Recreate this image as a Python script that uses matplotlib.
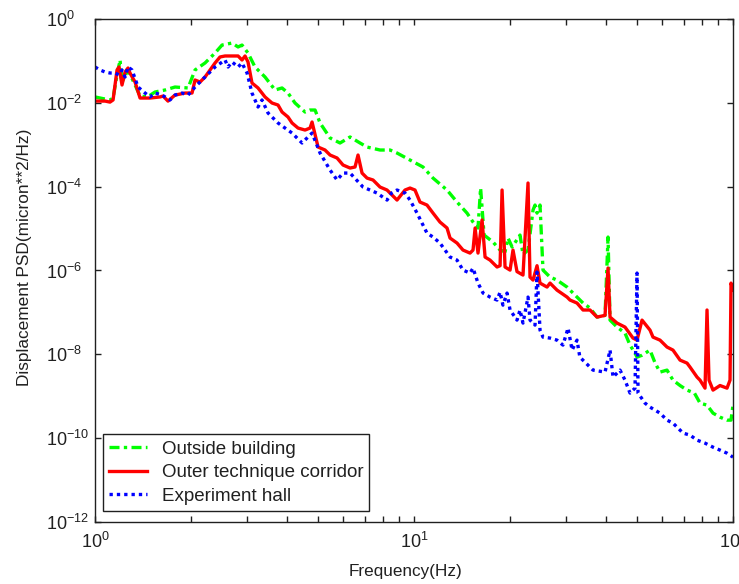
import matplotlib
matplotlib.use("Agg")
import matplotlib.pyplot as plt
from matplotlib.ticker import LogLocator, NullLocator

plt.rcParams["font.family"] = ["Liberation Sans", "DejaVu Sans"]
plt.rcParams["mathtext.default"] = "regular"
plt.rcParams["axes.unicode_minus"] = False

# Outside building (green, dash-dot)
f_out = [1.00, 1.075, 1.114, 1.139, 1.172, 1.198, 1.215, 1.269, 1.335, 1.384,
         1.46, 1.542, 1.657, 1.781, 1.957, 2.058, 2.212, 2.378, 2.501, 2.689,
         2.808, 2.889, 3.017, 3.173, 3.411, 3.667, 3.857, 4.027, 4.236, 4.554,
         4.721, 4.895, 5.075, 5.455, 5.862, 6.302, 6.771, 7.124, 7.824, 8.410,
         8.845, 9.716, 10.67, 11.47, 12.69, 13.64, 14.66, 15.31, 15.87, 16.17,
         16.58, 17.69, 18.61, 19.29, 19.71, 20.3, 21.49, 21.96, 22.77, 23.61,
         23.95, 24.30, 24.83, 25.37, 26.69, 28.07, 30.18, 32.43, 33.87, 35.62,
         37.47, 39.70, 40.57, 41.16, 43.30, 45.86, 47.54, 49.29, 50.01, 51.85,
         54.93, 57.0, 59.04, 62.10, 64.84, 68.23, 71.76, 75.7, 78.81, 82.89,
         86.56, 91.05, 95.76, 98.57, 100.0]
psd_out = [0.0138, 0.0123, 0.0117, 0.0130, 0.0461, 0.105, 0.0313, 0.0607, 0.0266, 0.0145,
           0.0138, 0.0181, 0.0202, 0.0238, 0.0226, 0.0607, 0.0891, 0.154, 0.239, 0.267,
           0.215, 0.239, 0.154, 0.0715, 0.0413, 0.0202, 0.0226, 0.0171, 0.00989, 0.00603,
           0.00673, 0.00673, 0.00330, 0.00145, 0.00110, 0.00153, 0.00110, 8.81e-4, 7.48e-4, 7.48e-4,
           6.34e-4, 4.31e-4, 2.94e-4, 1.60e-4, 8.30e-5, 4.29e-5, 2.34e-5, 1.43e-5, 1.03e-5, 9.26e-5,
           7.00e-6, 4.76e-6, 3.07e-6, 2.8e-6, 5.93e-6, 3.62e-6, 7.00e-6, 2.4e-6, 3.07e-6, 2.77e-5,
           3.64e-5, 2.34e-5, 3.64e-5, 1.02e-6, 6.96e-7, 5.90e-7, 4.02e-7, 2.32e-7, 1.67e-7, 1.27e-7,
           7.73e-8, 8.5e-8, 6.27e-6, 6.55e-8, 4.46e-8, 3.21e-8, 1.66e-8, 1.07e-8, 8.57e-9, 9.5e-9,
           1.26e-8, 6.17e-9, 3.76e-9, 4.20e-9, 2.42e-9, 1.8e-9, 1.40e-9, 1.19e-9, 6.85e-10, 6.13e-10,
           3.95e-10, 3.17e-10, 2.69e-10, 2.69e-10, 6.13e-10]

# Outer technique corridor (red, solid)
f_cor = [1.00, 1.075, 1.114, 1.139, 1.172, 1.189, 1.215, 1.242, 1.269, 1.287,
         1.335, 1.384, 1.487, 1.599, 1.634, 1.693, 1.781, 1.915, 2.014, 2.058,
         2.134, 2.212, 2.294, 2.378, 2.465, 2.556, 2.689, 2.808, 2.889, 2.953,
         3.017, 3.105, 3.243, 3.411, 3.588, 3.747, 3.857, 4.027, 4.146, 4.329,
         4.554, 4.721, 4.790, 5.002, 5.260, 5.455, 5.738, 5.990, 6.302, 6.532,
         6.675, 6.871, 7.124, 7.439, 7.824, 8.230, 8.845, 9.371, 9.716, 10.07,
         10.44, 10.98, 11.47, 12.06, 12.69, 12.97, 13.64, 14.24, 14.98, 15.31,
         15.54, 15.87, 16.34, 16.70, 17.31, 18.21, 18.61, 18.88, 19.29, 20.00,
         20.43, 21.03, 21.96, 22.77, 23.10, 23.61, 24.30, 24.83, 26.12, 26.69,
         28.07, 30.18, 30.83, 32.43, 33.87, 35.62, 37.47, 39.70, 40.57, 41.16,
         43.30, 45.86, 48.58, 50.01, 51.85, 54.93, 56.13, 59.04, 62.10, 64.84,
         68.23, 71.76, 73.33, 77.13, 78.81, 81.71, 82.89, 84.10, 86.56, 91.05,
         95.76, 97.87, 98.57, 100.0]
psd_cor = [0.0110, 0.0110, 0.0104, 0.0117, 0.0607, 0.0715, 0.0266, 0.0543, 0.0677, 0.0514,
           0.0313, 0.0130, 0.0130, 0.0138, 0.0145, 0.0110, 0.0153, 0.0171, 0.0171, 0.0350,
           0.0313, 0.0413, 0.0607, 0.0891, 0.124, 0.131, 0.131, 0.131, 0.105, 0.131,
           0.0942, 0.0297, 0.0226, 0.0138, 0.00989, 0.00886, 0.00603, 0.00458, 0.00330, 0.00250,
           0.00224, 0.00250, 0.00348, 8.81e-4, 7.48e-4, 5.68e-4, 4.82e-4, 3.28e-4, 2.78e-4, 2.94e-4,
           5.68e-4, 2.11e-4, 1.60e-4, 1.44e-4, 9.78e-5, 8.30e-5, 4.79e-5, 8.30e-5, 9.26e-5, 8.30e-5,
           4.29e-5, 3.64e-5, 2.34e-5, 1.43e-5, 1.03e-5, 5.93e-6, 4.51e-6, 3.07e-6, 2.60e-6, 3.07e-6,
           1.03e-5, 2.60e-6, 1.60e-5, 2.09e-6, 1.77e-6, 1.21e-6, 1.3e-6, 8.30e-5, 1.21e-6, 1.02e-6,
           3.07e-6, 9.4e-7, 7.77e-7, 1.22e-4, 6.96e-7, 5.90e-7, 1.3e-6, 5.00e-7, 4.02e-7, 5.00e-7,
           3.40e-7, 2.32e-7, 1.97e-7, 1.67e-7, 1.14e-7, 1.14e-7, 7.73e-8, 8.5e-8, 1.14e-6, 7.73e-8,
           5.56e-8, 4.46e-8, 2.44e-8, 2.18e-8, 6.55e-8, 3.78e-8, 2.57e-8, 2.18e-8, 1.49e-8, 1.26e-8,
           7.27e-9, 6.17e-9, 4.95e-9, 2.86e-9, 2.42e-9, 1.56e-9, 1.14e-7, 2.42e-9, 1.40e-9, 1.8e-9,
           1.56e-9, 2.42e-9, 5.00e-7, 3.40e-7]

# Experiment hall (blue, dotted)
f_hall = [1.00, 1.037, 1.075, 1.114, 1.155, 1.189, 1.215, 1.242, 1.269, 1.306,
          1.364, 1.435, 1.487, 1.542, 1.621, 1.718, 1.781, 1.874, 1.957, 2.058,
          2.212, 2.378, 2.556, 2.612, 2.689, 2.808, 2.889, 2.996, 3.105, 3.243,
          3.338, 3.486, 3.747, 3.941, 4.146, 4.456, 4.653, 4.790, 5.075, 5.455,
          5.738, 5.990, 6.302, 6.921, 7.280, 7.656, 8.230, 8.5, 8.845, 9.371,
          9.716, 10.22, 10.98, 11.47, 12.06, 12.97, 13.64, 14.24, 14.98, 15.31,
          15.87, 16.46, 17.31, 18.21, 18.61, 19.0, 19.57, 20.00, 21.03, 21.49,
          21.96, 22.77, 23.10, 23.95, 24.30, 24.83, 25.37, 26.69, 28.07, 29.3,
          30.40, 31.3, 32.43, 33.1, 36.40, 39.70, 41.16, 42.06, 44.24, 45.86,
          47.54, 49.29, 50.01, 50.38, 52.98, 54.93, 59.04, 62.10, 64.84, 69.72,
          73.33, 77.13, 81.71, 86.56, 91.05, 95.76, 100.0]
psd_hall = [0.0715, 0.0607, 0.0543, 0.0514, 0.0514, 0.0461, 0.0607, 0.0413, 0.0715, 0.0607,
            0.0238, 0.0171, 0.0138, 0.0171, 0.0153, 0.0117, 0.0153, 0.0171, 0.0153, 0.0238,
            0.0413, 0.0715, 0.105, 0.0715, 0.0942, 0.0715, 0.0891, 0.0514, 0.0171, 0.00794,
            0.0117, 0.00571, 0.00330, 0.00250, 0.00190, 0.00110, 0.00153, 0.00190, 6.34e-4, 2.49e-4,
            1.44e-4, 2.11e-4, 2.11e-4, 9.78e-5, 8.30e-5, 7.03e-5, 4.79e-5, 7.03e-5, 8.30e-5, 7.03e-5,
            4.79e-5, 2.34e-5, 7.81e-6, 6.27e-6, 4.51e-6, 2.09e-6, 1.77e-6, 1.02e-6, 8.67e-7, 1.14e-6,
            5.00e-7, 2.89e-7, 2.32e-7, 1.97e-7, 3.05e-7, 1.49e-7, 2.89e-7, 1.14e-7, 6.55e-8, 1.14e-7,
            5.56e-8, 2.32e-7, 6.55e-8, 4.98e-8, 9.16e-7, 3.78e-8, 2.57e-8, 2.44e-8, 2.18e-8, 1.66e-8,
            4.22e-8, 1.26e-8, 2.18e-8, 8.57e-9, 4.20e-9, 3.76e-9, 1.26e-8, 2.86e-9, 4.20e-9, 2.42e-9,
            1.19e-9, 1.56e-9, 8.67e-7, 1.19e-9, 6.85e-10, 5.50e-10, 3.95e-10, 2.69e-10, 2.28e-10, 1.32e-10,
            1.18e-10, 8.96e-11, 7.6e-11, 6.09e-11, 5.18e-11, 4.38e-11, 3.52e-11]

fig = plt.figure(figsize=(7.39, 5.84), dpi=100)
ax = fig.add_axes([0.1286, 0.1062, 0.8633, 0.8613])

ax.loglog(f_out, psd_out, color="#00ff00", linestyle=(0, (3, 1.3, 1, 1.3)), linewidth=2.4,
          label="Outside building")
ax.loglog(f_cor, psd_cor, color="#ff0000", linestyle="-", linewidth=2.4,
          label="Outer technique corridor")
ax.loglog(f_hall, psd_hall, color="#0000ff", linestyle=(0, (1, 1.2)), linewidth=2.4,
          label="Experiment hall")

ax.set_xlim(1, 100)
ax.set_ylim(1e-12, 1)
ax.set_yticks([1e-12, 1e-10, 1e-8, 1e-6, 1e-4, 1e-2, 1])
ax.yaxis.set_minor_locator(NullLocator())
ax.xaxis.set_minor_locator(LogLocator(base=10, subs=range(2, 10)))

txt = "#202020"
ax.tick_params(which="both", direction="in", top=True, right=True, length=4,
               width=1, color=txt, labelsize=13, labelcolor=txt)
ax.tick_params(axis="x", pad=7)
ax.tick_params(axis="y", pad=35.5)
for lab in ax.get_yticklabels():
    lab.set_horizontalalignment("left")
for sp in ax.spines.values():
    sp.set_color(txt)
    sp.set_linewidth(1)

ax.set_xlabel("Frequency(Hz)", fontsize=12.3, color=txt)
ax.set_ylabel("Displacement PSD(micron**2/Hz)", fontsize=12.4, color=txt)
ax.xaxis.set_label_coords(0.487, -0.083)
ax.yaxis.set_label_coords(-0.099, 0.526)

leg = ax.legend(loc="lower left", bbox_to_anchor=(0.0125, 0.022), borderaxespad=0,
                fontsize=13.5, handlelength=2.0, handletextpad=0.8, labelspacing=0.35,
                borderpad=0.32, fancybox=False, framealpha=1)
leg.get_frame().set_edgecolor(txt)
leg.get_frame().set_linewidth(1)
for t in leg.get_texts():
    t.set_color(txt)

fig.savefig("out.png", dpi=100)
